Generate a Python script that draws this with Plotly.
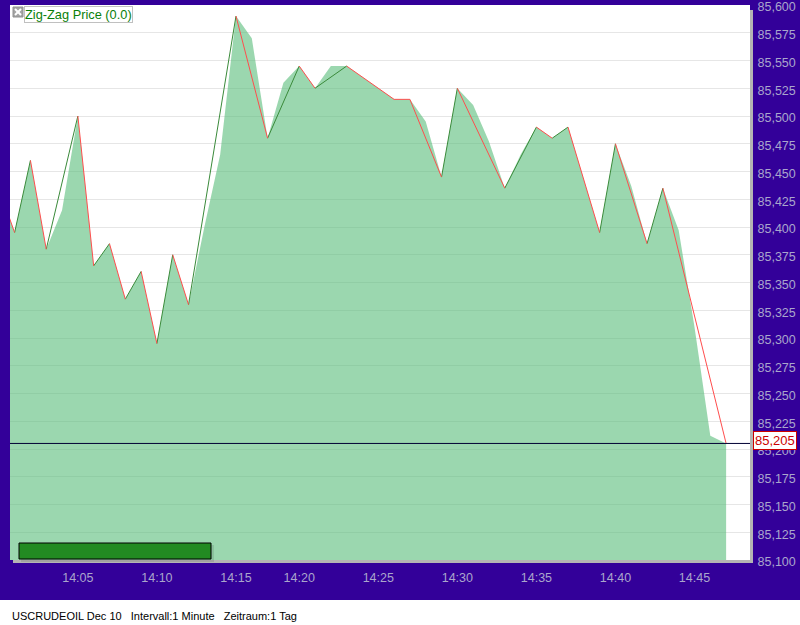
import plotly.graph_objects as go

# ---------------- data ----------------
times = ["14:00", "14:01", "14:02", "14:03", "14:04", "14:05", "14:06", "14:07", "14:08", "14:09",
         "14:10", "14:11", "14:12", "14:13", "14:14", "14:15", "14:16", "14:18", "14:19", "14:20",
         "14:21", "14:22", "14:23", "14:24", "14:25", "14:26", "14:27", "14:28", "14:29", "14:30",
         "14:31", "14:32", "14:33", "14:34", "14:35", "14:36", "14:37", "14:38", "14:39", "14:40",
         "14:41", "14:42", "14:43", "14:44", "14:45", "14:46", "14:47"]

close = [85.435, 85.395, 85.460, 85.380, 85.415, 85.500, 85.365, 85.385, 85.335, 85.360,
         85.295, 85.375, 85.330, 85.400, 85.465, 85.590, 85.570, 85.480, 85.530, 85.545,
         85.525, 85.545, 85.545, 85.535, 85.525, 85.515, 85.515, 85.495, 85.445, 85.525,
         85.510, 85.477, 85.435, 85.465, 85.490, 85.480, 85.490, 85.443, 85.395, 85.475,
         85.437, 85.385, 85.435, 85.397, 85.310, 85.212, 85.205]

zigzag_idx = [0, 1, 2, 3, 5, 6, 7, 8, 9, 10, 11, 12, 15, 17, 19, 20, 22, 25, 26, 28,
              29, 32, 34, 35, 36, 38, 39, 41, 42, 46]

x_tick_labels = ["14:05", "14:10", "14:15", "14:20", "14:25", "14:30", "14:35", "14:40", "14:45"]
y_tick_labels = ["85,100", "85,125", "85,150", "85,175", "85,200", "85,225", "85,250", "85,275",
                 "85,300", "85,325", "85,350", "85,375", "85,400", "85,425", "85,450", "85,475",
                 "85,500", "85,525", "85,550", "85,575", "85,600"]
y_tick_vals = [float(s.replace(",", ".")) for s in y_tick_labels]

last_price = 85.205
last_price_label = "85,205"
legend_label = "Zig-Zag Price (0.0)"
footer_text = "USCRUDEOIL Dec 10\u00a0\u00a0\u00a0Intervall:1 Minute\u00a0\u00a0\u00a0Zeitraum:1 Tag"

# ---------------- styling helpers ----------------
PURPLE = "#330099"
LABEL = "#aaa6cc"
FONT = "Liberation Sans, Arial, sans-serif"


def px(x):
    return (x - 10) / 740.0


def py(y):
    return (560 - y) / 555.0


fig = go.Figure()

# area of closes
fig.add_trace(go.Scatter(
    x=times, y=close, mode="lines", fill="tozeroy",
    line=dict(width=0, color="rgba(0,0,0,0)"),
    fillcolor="rgba(88,188,122,0.6)", hoverinfo="skip", showlegend=False))

# zig-zag segments
up_x, up_y, dn_x, dn_y = [], [], [], []
for a, b in zip(zigzag_idx[:-1], zigzag_idx[1:]):
    if close[b] > close[a]:
        up_x += [times[a], times[b], None]
        up_y += [close[a], close[b], None]
    else:
        dn_x += [times[a], times[b], None]
        dn_y += [close[a], close[b], None]

fig.add_trace(go.Scatter(x=up_x, y=up_y, mode="lines", line=dict(color="#3a8a3a", width=1),
                         connectgaps=False, showlegend=False, hoverinfo="skip"))
fig.add_trace(go.Scatter(x=dn_x, y=dn_y, mode="lines", line=dict(color="#ff4d4d", width=1),
                         connectgaps=False, showlegend=False, hoverinfo="skip"))

shapes = [
    # last price line
    dict(type="line", xref="paper", yref="y", x0=0, x1=1, y0=last_price, y1=last_price,
         line=dict(color="#000033", width=1), layer="above"),
    # plot shadow right / bottom
    dict(type="rect", xref="paper", yref="paper", x0=1, x1=px(753), y0=py(563), y1=py(10),
         fillcolor="#b4b4b4", line=dict(width=0)),
    dict(type="rect", xref="paper", yref="paper", x0=px(13), x1=px(753), y0=py(563), y1=0,
         fillcolor="#b4b4b4", line=dict(width=0)),
    # white footer strip
    dict(type="rect", xref="paper", yref="paper", x0=px(-20), x1=px(820), y0=py(640), y1=py(600),
         fillcolor="white", line=dict(width=0)),
    # green bar shadow + bar
    dict(type="rect", xref="paper", yref="paper", x0=px(21), x1=px(214), y0=py(562), y1=py(545),
         fillcolor="rgba(0,0,0,0.10)", line=dict(width=0)),
    dict(type="rect", xref="paper", yref="paper", x0=px(19), x1=px(211), y0=py(559), y1=py(543),
         fillcolor="#228a22", line=dict(color="black", width=1)),
    # legend icon
    dict(type="rect", xref="paper", yref="paper", x0=px(13), x1=px(23), y0=py(17), y1=py(7),
         fillcolor="#a4a4a4", line=dict(color="#909090", width=1)),
    dict(type="line", xref="paper", yref="paper", x0=px(15), x1=px(21), y0=py(15), y1=py(9),
         line=dict(color="white", width=2)),
    dict(type="line", xref="paper", yref="paper", x0=px(15), x1=px(21), y0=py(9), y1=py(15),
         line=dict(color="white", width=2)),
]

annotations = [
    dict(text=legend_label, xref="paper", yref="paper", x=px(24), y=py(6), xanchor="left",
         yanchor="top", showarrow=False, font=dict(family=FONT, size=12.8, color="#0a800a"),
         bordercolor="#c0c0c0", borderwidth=1, borderpad=0, bgcolor="white"),
    dict(text=last_price_label, xref="paper", yref="y", x=px(753), y=last_price, xanchor="left",
         yanchor="middle", yshift=3, showarrow=False,
         font=dict(family=FONT, size=13, color="#cc0000"),
         bordercolor="#cc0000", borderwidth=1, borderpad=1, bgcolor="white"),
    dict(text=footer_text, xref="paper", yref="paper", x=px(10), y=py(616), xanchor="left",
         yanchor="middle", showarrow=False, font=dict(family=FONT, size=11, color="black")),
]

fig.update_layout(
    width=800, height=625,
    margin=dict(l=10, r=50, t=5, b=65, pad=0, autoexpand=False),
    paper_bgcolor=PURPLE, plot_bgcolor="white",
    shapes=shapes, annotations=annotations, showlegend=False,
    xaxis=dict(type="category", range=[0.708, 47.51], tickmode="array", tickvals=x_tick_labels,
               ticktext=x_tick_labels, showgrid=False, zeroline=False, showline=False,
               ticks="outside", ticklen=6, tickcolor="rgba(0,0,0,0)", automargin=False,
               tickfont=dict(family=FONT, size=12.5, color=LABEL), fixedrange=True),
    yaxis=dict(range=[85.1, 85.6], side="right", tickmode="array", tickvals=y_tick_vals,
               ticktext=y_tick_labels, showgrid=True, gridcolor="#e6e6e6", gridwidth=1,
               zeroline=False, showline=False, ticks="outside", ticklen=4, automargin=False,
               tickcolor="rgba(0,0,0,0)", tickfont=dict(family=FONT, size=12.5, color=LABEL),
               ticklabeloverflow="allow", ticklabelshift=2, fixedrange=True),
)

fig.write_html("out.html", config={"displayModeBar": False},
               post_script="document.body.style.margin='0';document.body.style.padding='0';")
